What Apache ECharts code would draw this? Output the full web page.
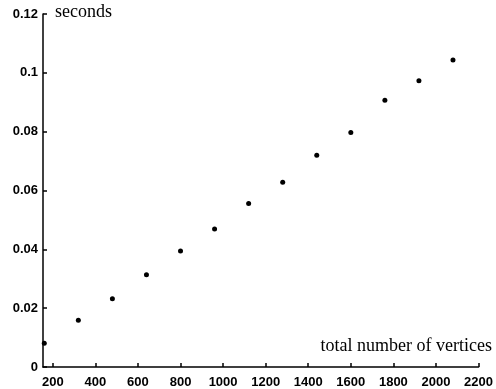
<!DOCTYPE html>
<html><head><meta charset="utf-8">
<script src="https://cdn.jsdelivr.net/npm/echarts@6/dist/echarts.min.js"></script>
<style>html,body{margin:0;padding:0;background:#fff}#c{width:496px;height:389px}</style>
</head><body><div id="c"></div>
<script>
const vertices = [160, 320, 480, 640, 800, 960, 1120, 1280, 1440, 1600, 1760, 1920, 2080];
const seconds = [0.0081, 0.0159, 0.0232, 0.0314, 0.0394, 0.0469, 0.0556, 0.0628, 0.0720, 0.0797, 0.0907, 0.0973, 0.1044];
const xTicks = [200, 400, 600, 800, 1000, 1200, 1400, 1600, 1800, 2000, 2200];
const yTicks = [0, 0.02, 0.04, 0.06, 0.08, 0.1, 0.12];
const yName = 'seconds';
const xName = 'total number of vertices';

const tickFont = {fontFamily: '"Liberation Sans", Arial, sans-serif', fontSize: 13, color: '#000', fontWeight: 'bold'};
const chart = echarts.init(document.getElementById('c'), null, {renderer: 'canvas'});
chart.setOption({
  animation: false,
  grid: {left: 43, right: 12, top: 14, bottom: 22, containLabel: false},
  xAxis: {
    type: 'value', min: 154, max: 2200,
    axisLine: {lineStyle: {color: '#000', width: 1.5}},
    axisTick: {inside: true, length: 4, lineStyle: {color: '#000', width: 1.5}, customValues: xTicks},
    axisLabel: Object.assign({customValues: xTicks, margin: 9, hideOverlap: false, formatter: v => String(v)}, tickFont),
    splitLine: {show: false}
  },
  yAxis: {
    type: 'value', min: 0, max: 0.12, interval: 0.02,
    axisLine: {show: true, lineStyle: {color: '#000', width: 1.5}},
    axisTick: {show: true, inside: true, length: 4, lineStyle: {color: '#000', width: 1.5}},
    axisLabel: Object.assign({margin: 5, formatter: v => String(+v.toFixed(2))}, tickFont),
    splitLine: {show: false}
  },
  graphic: [
    {type: 'text', left: 55, top: 3, style: {text: yName, font: '18px "Liberation Serif", "DejaVu Serif", serif', fill: '#000'}},
    {type: 'text', right: 4, top: 337, style: {text: xName, font: '18px "Liberation Serif", "DejaVu Serif", serif', fill: '#000'}}
  ],
  series: [{
    type: 'scatter', symbol: 'circle', symbolSize: 5,
    itemStyle: {color: '#000', opacity: 1},
    data: vertices.map((v, i) => [v, seconds[i]])
  }]
});
</script></body></html>
